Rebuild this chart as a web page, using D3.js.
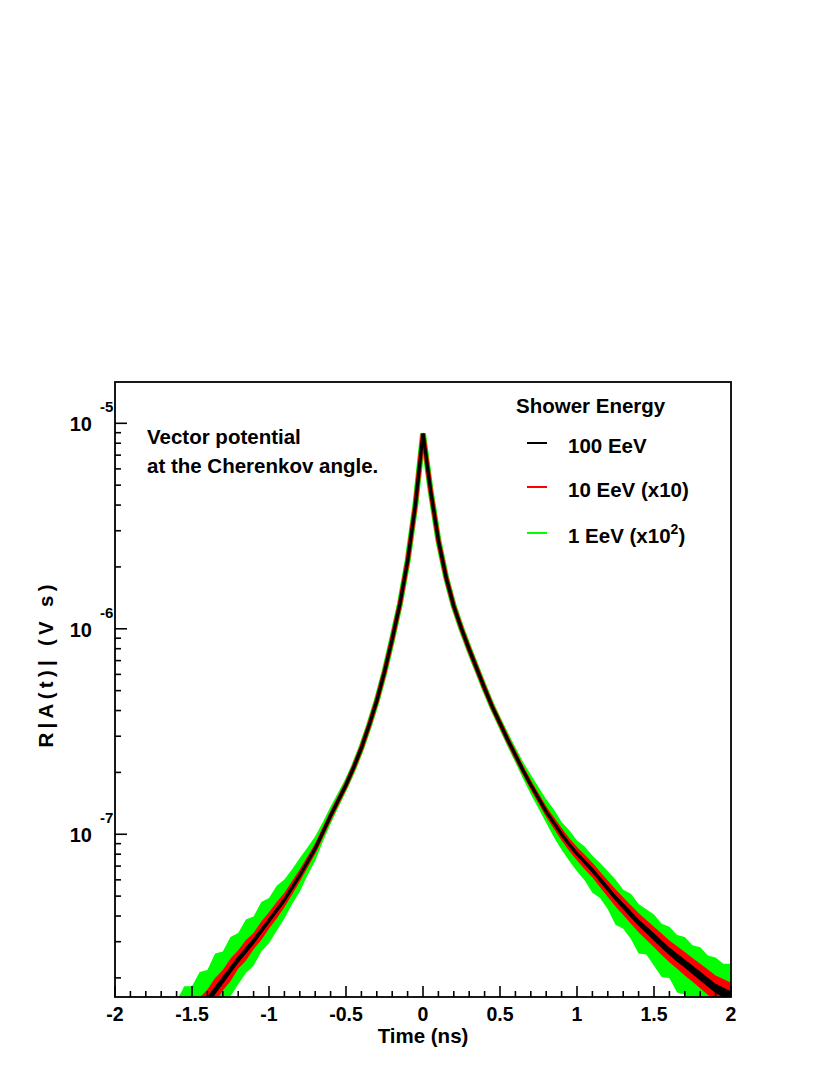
<!DOCTYPE html>
<html><head><meta charset="utf-8">
<script src="https://cdn.jsdelivr.net/npm/d3@7"></script>
<style>body{margin:0;background:#fff}svg{display:block}text{font-family:"Liberation Sans",Arial,Helvetica,sans-serif;font-weight:bold;fill:#000}</style>
</head><body>
<svg id="c" width="830" height="1075"></svg>
<script>
// ---- data ----
const times = [-1.60,-1.55,-1.50,-1.45,-1.40,-1.35,-1.30,-1.25,-1.20,-1.15,-1.10,-1.05,-1.00,-0.95,-0.90,-0.85,-0.80,-0.75,-0.70,-0.65,-0.60,-0.55,-0.50,-0.45,-0.40,-0.35,-0.30,-0.25,-0.20,-0.15,-0.10,-0.05,0.00,0.05,0.10,0.15,0.20,0.25,0.30,0.35,0.40,0.45,0.50,0.55,0.60,0.65,0.70,0.75,0.80,0.85,0.90,0.95,1.00,1.05,1.10,1.15,1.20,1.25,1.30,1.35,1.40,1.45,1.50,1.55,1.60,1.65,1.70,1.75,1.80,1.85,1.90,1.95,2.00];
// log10 of R|A(t)| (V s), common curve of the three (scaled) showers
const logA = [-8.01,-7.96,-7.91,-7.86,-7.81,-7.76,-7.71,-7.66,-7.61,-7.565,-7.52,-7.47,-7.42,-7.37,-7.32,-7.26,-7.20,-7.135,-7.07,-6.99,-6.91,-6.835,-6.76,-6.675,-6.58,-6.47,-6.35,-6.21,-6.05,-5.88,-5.67,-5.40,
  -5.05,
  -5.33,-5.57,-5.75,-5.89,-6.00,-6.10,-6.195,-6.29,-6.38,-6.46,-6.54,-6.615,-6.69,-6.76,-6.825,-6.89,-6.945,-7.00,-7.05,-7.095,-7.135,-7.175,-7.22,-7.265,-7.31,-7.35,-7.39,-7.43,-7.465,-7.50,-7.535,-7.57,-7.60,-7.63,-7.66,-7.69,-7.72,-7.75,-7.77,-7.79];
// noise envelopes (decades above / below the curve)
const greenUp = [0.20,0.22,0.17,0.19,0.15,0.18,0.14,0.16,0.13,0.15,0.12,0.14,0.11,0.12,0.10,0.09,0.085,0.07,0.06,0.05,0.045,0.04,0.035,0.03,0.025,0.022,0.02,0.016,0.014,0.012,0.011,0.01,
  0.01,
  0.01,0.012,0.013,0.015,0.017,0.02,0.022,0.025,0.028,0.03,0.035,0.038,0.042,0.05,0.055,0.06,0.065,0.06,0.07,0.065,0.075,0.07,0.08,0.085,0.09,0.08,0.10,0.09,0.10,0.11,0.10,0.12,0.11,0.13,0.12,0.14,0.13,0.15,0.14,0.16];
const greenDown = [0.15,0.15,0.14,0.16,0.13,0.14,0.12,0.13,0.12,0.11,0.12,0.10,0.11,0.10,0.09,0.08,0.08,0.065,0.06,0.045,0.04,0.035,0.03,0.025,0.022,0.02,0.018,0.015,0.013,0.012,0.011,0.01,
  0.01,
  0.01,0.012,0.013,0.014,0.016,0.018,0.02,0.022,0.026,0.03,0.032,0.036,0.04,0.045,0.05,0.055,0.07,0.075,0.08,0.085,0.09,0.11,0.09,0.10,0.13,0.11,0.12,0.15,0.12,0.14,0.16,0.13,0.17,0.15,0.18,0.15,0.19,0.16,0.18,0.17];
const redSpread = [0.07,0.065,0.06,0.065,0.055,0.06,0.05,0.055,0.045,0.05,0.04,0.045,0.04,0.04,0.035,0.033,0.03,0.028,0.025,0.022,0.02,0.018,0.016,0.014,0.012,0.011,0.01,0.009,0.008,0.008,0.007,0.007,
  0.007,
  0.007,0.007,0.008,0.008,0.009,0.01,0.011,0.012,0.013,0.015,0.016,0.018,0.02,0.022,0.024,0.026,0.028,0.03,0.031,0.033,0.035,0.036,0.038,0.04,0.042,0.043,0.045,0.047,0.048,0.05,0.052,0.053,0.055,0.057,0.058,0.06,0.062,0.063,0.065,0.067];
const blackSpread = [0.025,0.024,0.023,0.022,0.021,0.02,0.019,0.018,0.017,0.016,0.015,0.014,0.013,0.012,0.011,0.01,0.009,0.008,0.007,0.006,0.005,0.005,0.004,0.004,0.003,0.003,0.003,0.002,0.002,0.002,0.002,0.002,
  0.002,
  0.002,0.002,0.002,0.002,0.003,0.003,0.003,0.004,0.004,0.005,0.005,0.006,0.006,0.007,0.008,0.008,0.009,0.01,0.01,0.011,0.012,0.012,0.013,0.014,0.014,0.015,0.016,0.016,0.017,0.018,0.018,0.019,0.02,0.02,0.021,0.022,0.022,0.023,0.024,0.025];

const seriesNames = ["100 EeV", "10 EeV (x10)", "1 EeV (x10", ];
const seriesColors = ["#000000", "#ff0000", "#00ff00"];
const xTicks = [-2,-1.5,-1,-0.5,0,0.5,1,1.5,2];
const xTickLabels = ["-2","-1.5","-1","-0.5","0","0.5","1","1.5","2"];
const yExponents = [-5,-6,-7];
const xDomain = [-2, 2];
const yLogDomain = [-7.792, -4.799];

// ---- layout ----
const L = 115, R = 731, T = 382, B = 997;
const svg = d3.select("#c");
const x = d3.scaleLinear().domain(xDomain).range([L, R]);
const y = d3.scaleLog().domain([Math.pow(10, yLogDomain[0]), Math.pow(10, yLogDomain[1])]).range([B, T]);

svg.append("defs").append("clipPath").attr("id","clip")
  .append("rect").attr("x",L).attr("y",T).attr("width",R-L).attr("height",B-T);

const pts = times.map((t,i)=>({t, c:logA[i], gu:greenUp[i], gd:greenDown[i], r:redSpread[i], b:blackSpread[i]}));
const g = svg.append("g").attr("clip-path","url(#clip)");

function band(upF, dnF){
  return d3.area().x(d=>x(d.t)).y0(d=>y(Math.pow(10,d.c-dnF(d)))).y1(d=>y(Math.pow(10,d.c+upF(d))));
}
const line = d3.line().x(d=>x(d.t)).y(d=>y(Math.pow(10,d.c)));

// green (1 EeV x100)
g.append("path").datum(pts).attr("d", band(d=>d.gu, d=>d.gd)).attr("fill", seriesColors[2]);
g.append("path").datum(pts).attr("d", line).attr("fill","none").attr("stroke",seriesColors[2]).attr("stroke-width",6);
// red (10 EeV x10)
g.append("path").datum(pts).attr("d", band(d=>d.r, d=>d.r)).attr("fill", seriesColors[1]);
g.append("path").datum(pts).attr("d", line).attr("fill","none").attr("stroke",seriesColors[1]).attr("stroke-width",4.6);
// black (100 EeV)
g.append("path").datum(pts).attr("d", band(d=>d.b, d=>d.b)).attr("fill", seriesColors[0]);
g.append("path").datum(pts).attr("d", line).attr("fill","none").attr("stroke",seriesColors[0]).attr("stroke-width",3.2);

// ---- axes ----
const ax = svg.append("g").attr("stroke","#000").attr("stroke-width",1.6);
// x minor/major ticks
d3.range(-20, 21).forEach(k=>{
  const v = k/10, major = (k % 5 === 0);
  ax.append("line").attr("x1",x(v)).attr("x2",x(v)).attr("y1",B).attr("y2",B-(major?11:6));
});
// y ticks
for (let e=-8; e<=-5; e++){
  for (let m=1; m<=9; m++){
    const v = m*Math.pow(10,e);
    if (v < y.domain()[0] || v > y.domain()[1]) continue;
    ax.append("line").attr("x1",L).attr("x2",L+(m===1?12:6)).attr("y1",y(v)).attr("y2",y(v));
  }
}
// frame
svg.append("rect").attr("x",L).attr("y",T).attr("width",R-L).attr("height",B-T)
  .attr("fill","none").attr("stroke","#000").attr("stroke-width",1.8);

// x tick labels
xTicks.forEach((v,i)=>{
  svg.append("text").attr("x",x(v)).attr("y",1021).attr("text-anchor","middle")
    .style("font-size","19.5px").text(xTickLabels[i]);
});
// y tick labels
yExponents.forEach(e=>{
  const yy = y(Math.pow(10,e));
  svg.append("text").attr("x",92).attr("y",yy+8).attr("text-anchor","end").style("font-size","20px").text("10");
  svg.append("text").attr("x",100).attr("y",yy-11).attr("text-anchor","start").style("font-size","15px").text(String(e));
});

// axis titles
svg.append("text").attr("x",423).attr("y",1043).attr("text-anchor","middle").style("font-size","20.5px").text("Time (ns)");
svg.append("text").attr("transform","translate(53,666) rotate(-90)").attr("text-anchor","middle")
  .attr("textLength",163).attr("lengthAdjust","spacing")
  .style("font-size","20.5px").text("R|A(t)| (V s)");

// annotation
svg.append("text").attr("x",147).attr("y",444).style("font-size","20.5px").text("Vector potential");
svg.append("text").attr("x",147).attr("y",473).style("font-size","20.5px").text("at the Cherenkov angle.");

// legend
svg.append("text").attr("x",516).attr("y",413).style("font-size","20.5px").text("Shower Energy");
const legY = [443, 487, 533];
const legBase = [453, 497, 543];
seriesNames.forEach((n,i)=>{
  svg.append("line").attr("x1",527).attr("x2",547).attr("y1",legY[i]).attr("y2",legY[i])
    .attr("stroke",seriesColors[i]).attr("stroke-width",2);
  const t = svg.append("text").attr("x",568).attr("y",legBase[i]).style("font-size","20.5px");
  if (i===2){
    t.append("tspan").text("1 EeV (x10");
    t.append("tspan").attr("dy",-9).style("font-size","14px").text("2");
    t.append("tspan").attr("dy",9).text(")");
  } else t.text(n);
});
</script>
</body></html>
